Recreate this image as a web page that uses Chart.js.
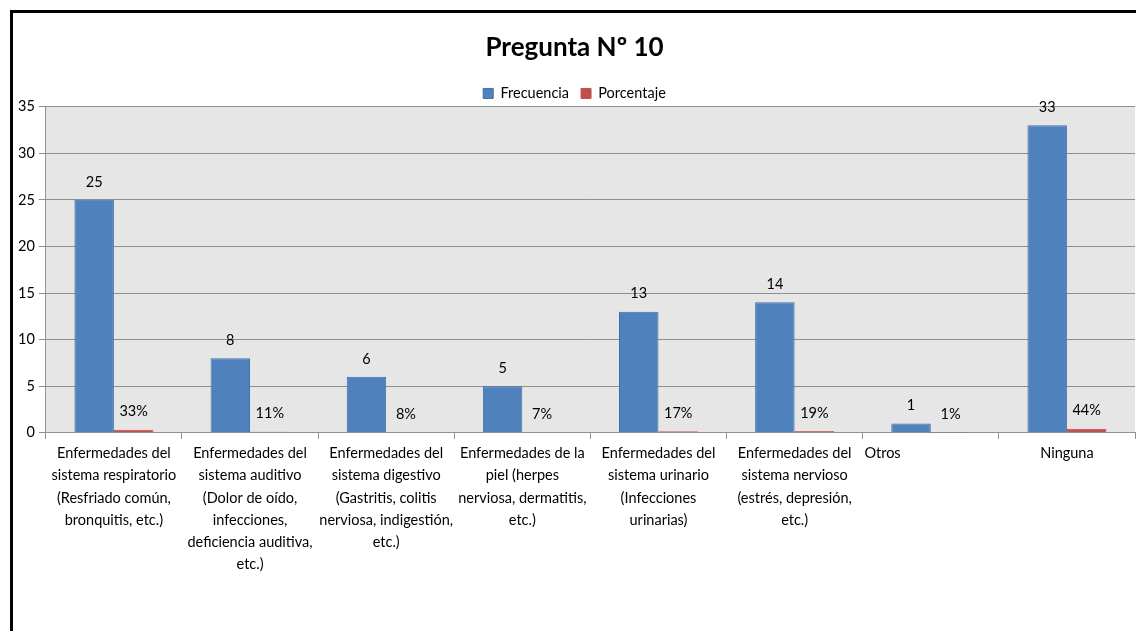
<!DOCTYPE html>
<html>
<head>
<meta charset="utf-8">
<script src="https://cdn.jsdelivr.net/npm/chart.js@4/dist/chart.umd.min.js"></script>
<style>
  html, body { margin: 0; padding: 0; background: #fff; }
  #frame { position: absolute; left: 10px; top: 10px; width: 1200px; height: 700px; border: 3px solid #000; }
  #wrap { position: absolute; left: 0; top: 0; width: 1136px; height: 631px; }
</style>
</head>
<body>
<div id="frame"></div>
<div id="wrap"><canvas id="chart"></canvas></div>
<script>
// categories (multi-line labels as in the original sheet)
const categories = [
    ["Enfermedades del", "sistema respiratorio", "(Resfriado común,", "bronquitis, etc.)"],
    ["Enfermedades del", "sistema auditivo", "(Dolor de oído,", "infecciones,", "deficiencia auditiva,", "etc.)"],
    ["Enfermedades del", "sistema digestivo", "(Gastritis, colitis", "nerviosa, indigestión,", "etc.)"],
    ["Enfermedades de la", "piel (herpes", "nerviosa, dermatitis,", "etc.)"],
    ["Enfermedades del", "sistema urinario", "(Infecciones", "urinarias)"],
    ["Enfermedades del", "sistema nervioso", "(estrés, depresión,", "etc.)"],
    "Otros                          ",
    "Ninguna",
];
const frecuencia = [25, 8, 6, 5, 13, 14, 1, 33];
const porcentaje = [0.33, 0.11, 0.08, 0.07, 0.17, 0.19, 0.01, 0.44];
const yTicks = [0, 5, 10, 15, 20, 25, 30, 35];

const FONT = "Lato, 'Open Sans', sans-serif";

// grey plot background
const plotBg = {
    id: "plotBg",
    beforeDraw(chart) {
        const { ctx, chartArea: a } = chart;
        ctx.save();
        ctx.fillStyle = "#e6e6e6";
        ctx.fillRect(a.left, a.top, a.right - a.left, a.bottom - a.top);
        ctx.restore();
    },
};

// legend sits a bit tighter on the plot than chart.js default
const tightLegend = {
    id: "tightLegend",
    beforeUpdate(chart) {
        const lg = chart.legend;
        if (lg && !lg._tight) {
            const fit = lg.fit.bind(lg);
            lg.fit = function () {
                fit();
                this.height -= 4;
            };
            lg._tight = true;
        }
    },
};

// value labels above the bars
const barLabels = {
    id: "barLabels",
    afterDatasetsDraw(chart) {
        const ctx = chart.ctx;
        ctx.save();
        ctx.font = "14.5px " + FONT;
        ctx.fillStyle = "#000";
        ctx.textAlign = "center";
        ctx.textBaseline = "middle";
        chart.data.datasets.forEach((ds, i) => {
            chart.getDatasetMeta(i).data.forEach((el, j) => {
                const v = ds.data[j];
                const txt = i === 0 ? String(v) : Math.round(v * 100) + "%";
                ctx.fillText(txt, el.x, el.y - 18);
            });
        });
        ctx.restore();
    },
};

new Chart(document.getElementById("chart"), {
    type: "bar",
    data: {
        labels: categories,
        datasets: [
            {
                label: "Frecuencia",
                data: frecuencia,
                backgroundColor: "#4f81bd",
                borderColor: "#3f6fa6",
                borderWidth: 1,
                categoryPercentage: 0.58,
                barPercentage: 1,
            },
            {
                label: "Porcentaje",
                data: porcentaje,
                backgroundColor: "#c0504d",
                borderColor: "#c0504d",
                borderWidth: 1,
                categoryPercentage: 0.58,
                barPercentage: 1,
            },
        ],
    },
    options: {
        responsive: true,
        maintainAspectRatio: false,
        animation: false,
        layout: { padding: { left: 14, right: 1, top: 0, bottom: 52 } },
        plugins: {
            title: {
                display: true,
                text: "Pregunta Nº 10",
                color: "#000",
                font: { family: FONT, size: 26, weight: "bold" },
                padding: { top: 32, bottom: 11 },
            },
            legend: {
                labels: {
                    boxWidth: 10,
                    boxHeight: 10,
                    color: "#000",
                    font: { family: FONT, size: 14.5 },
                    padding: 12,
                },
            },
            tooltip: { enabled: false },
        },
        scales: {
            x: {
                grid: {
                    drawOnChartArea: false,
                    drawTicks: true,
                    tickLength: 6,
                    color: "#8f8f8f",
                },
                border: { color: "#8f8f8f" },
                ticks: {
                    color: "#000",
                    font: { family: FONT, size: 14.5, lineHeight: 1.52 },
                    maxRotation: 0,
                    autoSkip: false,
                    padding: 4,
                },
            },
            y: {
                min: 0,
                max: 35,
                afterBuildTicks: (scale) => {
                    scale.ticks = yTicks.map((v) => ({ value: v }));
                },
                grid: { color: "#8f8f8f", tickLength: 7 },
                border: { color: "#8f8f8f" },
                ticks: {
                    color: "#000",
                    font: { family: FONT, size: 14.5 },
                    padding: 4,
                },
            },
        },
    },
    plugins: [plotBg, tightLegend, barLabels],
});
</script>
</body>
</html>
